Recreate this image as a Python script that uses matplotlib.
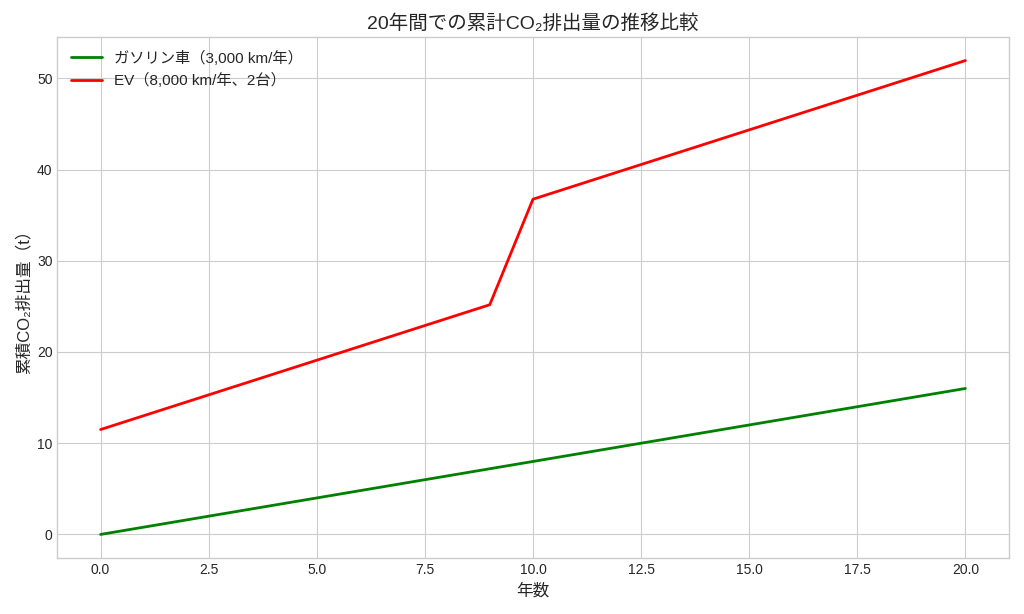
import matplotlib
matplotlib.use("Agg")
import matplotlib.pyplot as plt

plt.style.use("seaborn-v0_8-whitegrid")
plt.rcParams['font.family'] = ['Liberation Sans', 'Noto Sans CJK JP', 'DejaVu Sans']

years = list(range(0, 21))
gas_co2 = [0.0, 0.8, 1.6, 2.4, 3.2, 4.0, 4.8, 5.6, 6.4, 7.2, 8.0,
           8.8, 9.6, 10.4, 11.2, 12.0, 12.8, 13.6, 14.4, 15.2, 16.0]
ev_co2 = [11.5, 13.02, 14.54, 16.06, 17.58, 19.1, 20.62, 22.14, 23.66, 25.18, 36.75,
          38.27, 39.79, 41.31, 42.83, 44.35, 45.87, 47.39, 48.91, 50.43, 51.95]

label_gas = "ガソリン車（3,000 km/年）"
label_ev = "EV（8,000 km/年、2台）"
title = "20年間での累計CO₂排出量の推移比較"
xlabel = "年数"
ylabel = "累積CO₂排出量（t）"

fig, ax = plt.subplots(figsize=(10.24, 6.14), dpi=100)
ax.plot(years, gas_co2, color="green", lw=2, label=label_gas)
ax.plot(years, ev_co2, color="red", lw=2, label=label_ev)
ax.set_title(title, fontsize=14, color="#262626")
ax.set_xlabel(xlabel, fontsize=12)
ax.set_ylabel(ylabel, fontsize=12)
ax.legend(loc="upper left", fontsize=11)
ax.tick_params(labelsize=10)
fig.subplots_adjust(left=0.056, right=0.985, top=0.94, bottom=0.091)
fig.savefig("out.png", dpi=100)
